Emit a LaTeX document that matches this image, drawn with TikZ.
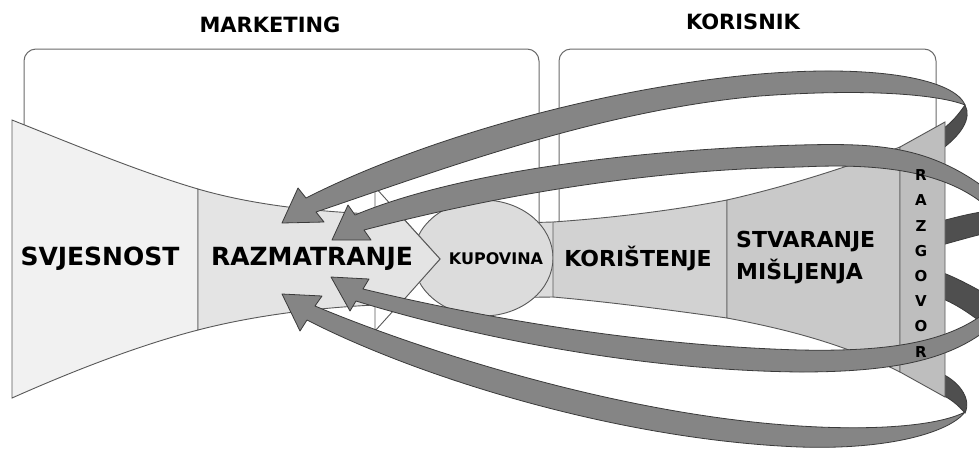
\documentclass[tikz,border=0pt]{standalone}
\usepackage{fontspec}
\setmainfont{DejaVu Sans}
\definecolor{cA}{HTML}{F1F1F1}
\definecolor{cB}{HTML}{E4E4E4}
\definecolor{cC}{HTML}{DCDCDC}
\definecolor{cD}{HTML}{D2D2D2}
\definecolor{cE}{HTML}{C9C9C9}
\definecolor{cF}{HTML}{BEBEBE}
\definecolor{bandf}{HTML}{858585}
\definecolor{bandb}{HTML}{4F4F4F}
\definecolor{edgec}{HTML}{3A3A3A}
\definecolor{brk}{HTML}{6A6A6A}
\begin{document}
\begin{tikzpicture}[x=1pt,y=-1pt,
  sec/.style={draw=edgec!85, line width=0.9pt},
  band/.style={fill=bandf, draw=edgec, line width=0.8pt, line join=round},
  bandback/.style={fill=bandb, draw=edgec, line width=0.8pt},
  bracket/.style={draw=brk, line width=1pt, rounded corners=12pt},
  lbl/.style={font=\bfseries\fontsize{25}{28}\selectfont, inner sep=0pt},
  lblm/.style={font=\bfseries\fontsize{22}{28}\selectfont, inner sep=0pt},
  lbls/.style={font=\bfseries\fontsize{16}{20}\selectfont, inner sep=0pt},
  ttl/.style={font=\bfseries\fontsize{21}{24}\selectfont, inner sep=0pt},
  rz/.style={font=\bfseries\fontsize{15}{18}\selectfont, inner sep=0pt}]
\useasboundingbox (0,0) rectangle (979,448);
\clip (0,0) rectangle (979,448);
\fill[white] (0,0) rectangle (979,448);
% brackets
\draw[bracket] (24,126) -- (24,49) -- (539,49) -- (539,232);
\draw[bracket] (559,232) -- (559,49) -- (936,49) -- (936,140);
% back parts of the bands
\path[bandback] (965,105) .. controls (972,118) and (962,135) .. (938,152) -- (938,132) .. controls (950,125) and (958,115) .. (965,105) -- cycle;
\path[bandback] (1000,210) .. controls (980,211) and (960,216) .. (938,222) -- (938,246) .. controls (960,240) and (980,234) .. (1000,230) -- cycle;
\path[bandback] (938,271) .. controls (955,277) and (970,285) .. (1000,302) -- (1000,336) .. controls (975,318) and (960,305) .. (938,297) -- cycle;
\path[bandback] (938,372) .. controls (958,380) and (972,398) .. (965,413) .. controls (958,405) and (950,398) .. (938,393) -- cycle;
% funnel
\path[sec, fill=cA] (12,120) .. controls (75,145) and (140,172) .. (198,189) -- (198,330) .. controls (140,345) and (75,370) .. (12,398) -- cycle;
\fill[cC] (480,224) -- (553,222) -- (553,297) -- (480,298) -- cycle;
\draw[sec] (480,224) -- (553,222);
\draw[sec] (480,298) -- (553,297);
\path[sec, fill=cC] (483,258) ellipse [x radius=70pt, y radius=58pt];
\path[sec, fill=white] (375,187) -- (440,259) -- (375,331) -- cycle;
\path[sec, fill=cB] (198,189) .. controls (260,207) and (330,213) .. (400,215) -- (440,259) -- (400,304) .. controls (330,306) and (260,314) .. (198,330) -- cycle;
\path[sec, fill=cD] (553,222) .. controls (610,218) and (670,211) .. (727,200) -- (727,318) .. controls (670,310) and (610,302) .. (553,297) -- cycle;
\path[sec, fill=cE] (727,200) .. controls (780,188) and (840,170) .. (900,147) -- (900,372) .. controls (840,342) and (780,328) .. (727,318) -- cycle;
\path[sec, fill=cF] (900,147) -- (945,122) -- (945,397) -- (900,372) -- cycle;
% labels
\node[ttl] (mkt) at (270,25) {MARKETING};
\node[ttl] (kor) at (743,22) {KORISNIK};
\node[lbl] (svj) at (100,259) {SVJESNOST};
\node[lbl] (raz) at (312,259) {RAZMATRANJE};
\node[lbls] (kup) at (496,259) {KUPOVINA};
\node[lblm] (kori) at (638,258) {KORIŠTENJE};
\node[lblm, anchor=west] (stv) at (736,242) {STVARANJE};
\node[lblm, anchor=west] (mis) at (736,271) {MIŠLJENJA};
% front parts of the bands with arrowheads
\path[band] (282,223) -- (298,188) -- (306,198) .. controls (420,140) and (600,88) .. (760,74) .. controls (880,64) and (955,80) .. (965,105) .. controls (940,95) and (870,88) .. (760,96) .. controls (600,110) and (440,170) .. (316,212) -- (324,222) -- cycle;
\path[band] (332,240) -- (348,205) -- (355,215) .. controls (450,175) and (620,150) .. (800,145) .. controls (880,143) and (935,145) .. (1000,200) -- (1000,220) .. controls (958,170) and (880,163) .. (800,167) .. controls (620,170) and (460,205) .. (364,230) -- (371,240) -- cycle;
\path[band] (331,277) -- (369,279) -- (363,289) .. controls (450,310) and (620,345) .. (800,350) .. controls (900,352) and (960,340) .. (1000,300) -- (1000,318) .. controls (960,358) and (900,372) .. (800,372) .. controls (620,370) and (450,330) .. (356,301) -- (350,311) -- cycle;
\path[band] (282,294) -- (322,296) -- (315,306) .. controls (420,350) and (620,415) .. (800,426) .. controls (880,431) and (940,425) .. (965,412) .. controls (950,432) and (890,450) .. (800,447) .. controls (620,440) and (420,378) .. (307,320) -- (300,331) -- cycle;
% vertical label
\foreach \l [count=\i] in {R,A,Z,G,O,V,O,R}
  \node[rz] (rz\i) at (921,150+25.2*\i) {\l};
\end{tikzpicture}
\end{document}
